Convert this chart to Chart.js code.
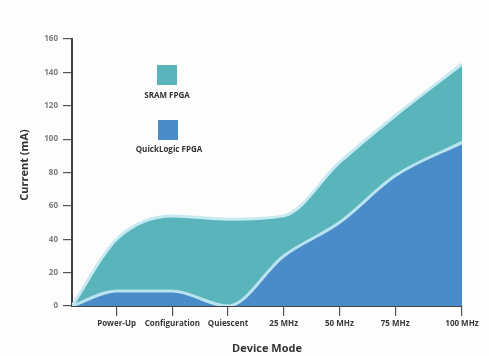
<!DOCTYPE html>
<html>
<head>
<meta charset="utf-8">
<script src="https://cdn.jsdelivr.net/npm/chart.js@4"></script>
<style>
html,body{margin:0;padding:0;background:#fdfdfd;}
#wrap{width:489px;height:356px;position:relative;}
</style>
</head>
<body>
<div id="wrap"><canvas id="c" width="489" height="356"></canvas></div>
<script>
// Categories (device modes) and their positions along the x axis
const modes = ['Power-Up','Configuration','Quiescent','25 MHz','50 MHz','75 MHz','100 MHz'];
const modeX = [0.8, 1.8, 2.8, 3.8, 4.8, 5.8, 7.0];
// Series values (mA) at the origin followed by each mode
const sramFPGA = [0, 40, 54, 52, 54, 86, 114, 145];
const quickLogicFPGA = [0, 9, 9, 0, 30, 50, 78, 98];
const yTicks = [0, 20, 40, 60, 80, 100, 120, 140, 160];
const seriesNames = ['SRAM FPGA', 'QuickLogic FPGA'];
const yTitle = 'Current (mA)';

const xs = [0].concat(modeX);
const toPts = arr => arr.map((v, i) => ({x: xs[i], y: v}));

const FONT = 'Open Sans';

const legendPlugin = {
  id: 'boxLegend',
  afterDraw(chart) {
    const ctx = chart.ctx;
    const items = [
      {name: seriesNames[0], color: '#5ab4bc', bx: 157, by: 65, tx: 167, ty: 96},
      {name: seriesNames[1], color: '#4a8bc9', bx: 158, by: 120, tx: 169, ty: 150}
    ];
    ctx.save();
    items.forEach(it => {
      ctx.fillStyle = it.color;
      ctx.fillRect(it.bx, it.by, 20, 20);
      ctx.fillStyle = '#333';
      ctx.font = 'bold 8px "' + FONT + '"';
      ctx.textAlign = 'center';
      ctx.textBaseline = 'middle';
      ctx.fillText(it.name, it.tx, it.ty);
    });
    // y axis title
    ctx.translate(25, 165);
    ctx.rotate(-Math.PI / 2);
    ctx.fillStyle = '#333';
    ctx.font = 'bold 11px "' + FONT + '"';
    ctx.fillText(yTitle, 0, 0);
    ctx.restore();
  }
};

new Chart(document.getElementById('c'), {
  type: 'line',
  data: {
    datasets: [
      {
        label: seriesNames[1],
        data: toPts(quickLogicFPGA),
        backgroundColor: '#4a8bc9',
        borderColor: '#b9e3ef',
        borderWidth: 3,
        fill: 'origin',
        pointRadius: 0,
        cubicInterpolationMode: 'monotone',
        order: 0
      },
      {
        label: seriesNames[0],
        data: toPts(sramFPGA),
        backgroundColor: '#5ab4bc',
        borderColor: '#c6eaf1',
        borderWidth: 3,
        fill: 'origin',
        pointRadius: 0,
        cubicInterpolationMode: 'monotone',
        order: 1
      }
    ]
  },
  options: {
    responsive: false,
    animation: false,
    events: [],
    layout: {padding: {top: 39, right: 27, left: 0, bottom: 0}},
    plugins: {legend: {display: false}, tooltip: {enabled: false}},
    scales: {
      x: {
        type: 'linear',
        min: 0,
        max: 7,
        afterBuildTicks(axis) { axis.ticks = modeX.map(v => ({value: v})); },
        afterFit(axis) { axis.height = 50; },
        ticks: {
          autoSkip: false,
          maxRotation: 0,
          padding: 3,
          color: '#3a3a3a',
          font: {family: FONT, size: 8, weight: 'bold'},
          callback: (v, i) => modes[i]
        },
        grid: {drawOnChartArea: false, drawTicks: true, tickLength: 10, color: '#555', lineWidth: 1.2},
        border: {display: true, color: '#444', width: 2},
        title: {display: true, text: 'Device Mode', color: '#333', font: {family: FONT, size: 11, weight: 'bold'}, padding: {top: 0, bottom: 1}}
      },
      y: {
        min: 0,
        max: 160,
        afterBuildTicks(axis) { axis.ticks = yTicks.map(v => ({value: v})); },
        afterFit(axis) { axis.width = 72; },
        ticks: {
          padding: 5,
          color: '#7a7a7a',
          font: {family: FONT, size: 8, weight: 'bold'}
        },
        grid: {drawOnChartArea: false, drawTicks: true, tickLength: 9, color: '#555', lineWidth: 1.2},
        border: {display: true, color: '#444', width: 2},
        title: {display: false}
      }
    }
  },
  plugins: [legendPlugin]
});
</script>
</body>
</html>
